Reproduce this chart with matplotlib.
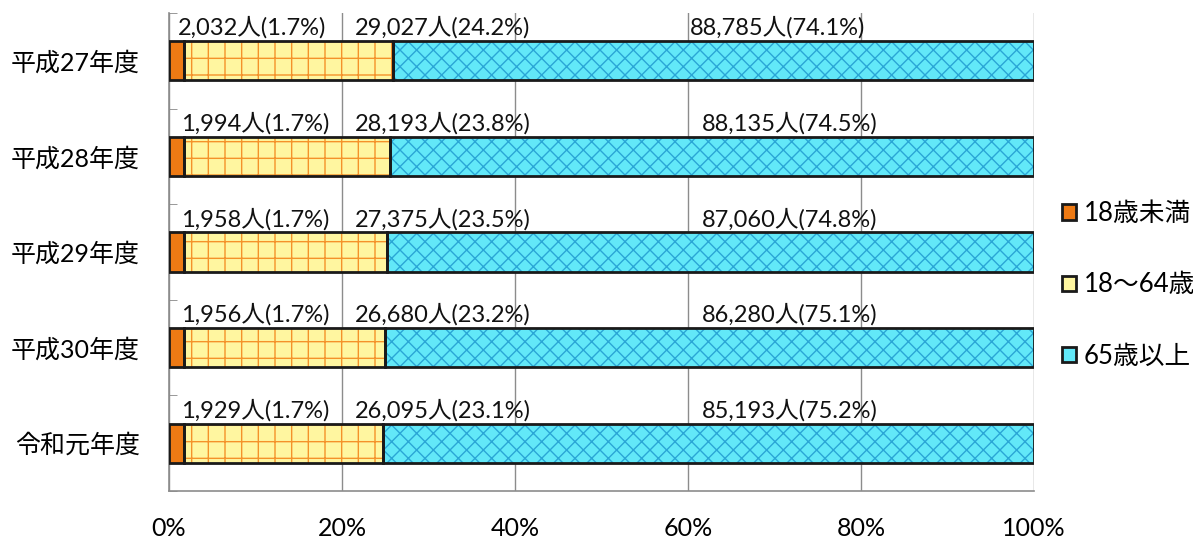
import matplotlib
matplotlib.use("Agg")
import matplotlib.pyplot as plt
from matplotlib.patches import Patch
import numpy as np

plt.rcParams['font.family'] = ['Lato', 'Noto Sans CJK JP', 'DejaVu Sans']
plt.rcParams['hatch.linewidth'] = 1.0

categories = ['平成27年度', '平成28年度', '平成29年度', '平成30年度', '令和元年度']
series_names = ['18歳未満', '18〜64歳', '65歳以上']
under18 = [2032, 1994, 1958, 1956, 1929]
age18_64 = [29027, 28193, 27375, 26680, 26095]
over65 = [88785, 88135, 87060, 86280, 85193]
pct_under18 = [1.7, 1.7, 1.7, 1.7, 1.7]
pct_18_64 = [24.2, 23.8, 23.5, 23.2, 23.1]
pct_over65 = [74.1, 74.5, 74.8, 75.1, 75.2]
xticks = [0, 20, 40, 60, 80, 100]
xtick_labels = ['0%', '20%', '40%', '60%', '80%', '100%']

counts = np.array([under18, age18_64, over65], dtype=float)
pcts = [pct_under18, pct_18_64, pct_over65]
shares = counts / counts.sum(axis=0) * 100

fills = ['#EE7A14', '#FFF6A0', '#62E8F8']
hatch_cols = ['#EE7A14', '#F4922A', '#2AA6D6']
hatches = [None, '+', 'xx']

# label left positions (percent of axis) per row
label_x = [[1.0, 21.5, 60.2]] + [[1.4, 21.5, 61.6]] * 4

fig = plt.figure(figsize=(11.93, 5.40), dpi=100)
ax = fig.add_axes([169/1193, 1 - 491/540, (1034 - 169)/1193, (491 - 13)/540])

y = np.arange(len(categories))
h = 0.41
left = np.zeros(len(categories))
for i in range(3):
    ax.barh(y, shares[i], left=left, height=h, color=fills[i], edgecolor='none', zorder=2)
    if hatches[i]:
        ax.barh(y, shares[i], left=left, height=h, fill=False, edgecolor=hatch_cols[i],
                hatch=hatches[i], linewidth=0, zorder=3)
    ax.barh(y, shares[i], left=left, height=h, fill=False, edgecolor='#1a1a1a',
            linewidth=2.0, zorder=4)
    left += shares[i]

for r in range(len(categories)):
    for i in range(3):
        txt = f"{int(counts[i][r]):,}人({pcts[i][r]:.1f}%)"
        ax.text(label_x[r][i], y[r] - h/2 - 0.065, txt, ha='left', va='baseline',
                fontsize=17, color='#111111', zorder=5)

ax.set_xlim(0, 100)
ax.set_ylim(len(categories) - 0.5, -0.5)
ax.set_xticks(xticks)
ax.set_xticklabels(xtick_labels, fontsize=18)
ax.set_yticks(y)
ax.set_yticklabels(categories, fontsize=18)
ax.tick_params(axis='x', length=0, pad=19)
ax.tick_params(axis='y', length=0, pad=21)
ax.set_yticks(np.arange(len(categories) + 1) - 0.5, minor=True)
ax.tick_params(axis='y', which='minor', direction='in', length=6, color='#888888')
ax.xaxis.grid(True, color='#8c8c8c', linewidth=1.0, zorder=0)
ax.set_axisbelow(True)
for s in ['top', 'right']:
    ax.spines[s].set_visible(False)
for s in ['left', 'bottom']:
    ax.spines[s].set_color('#8c8c8c')
    ax.spines[s].set_linewidth(1.2)

handles = []
for i in range(3):
    handles.append(Patch(facecolor=fills[i], edgecolor='#1a1a1a', linewidth=2.0))
leg = fig.legend(handles, series_names, loc='center left', bbox_to_anchor=(1062/1193, 1 - 285/540),
                 frameon=False, fontsize=18.5, handlelength=0.55, handleheight=0.55,
                 handletextpad=0.3, labelspacing=1.8, borderaxespad=0, borderpad=0)

fig.savefig('out.png', dpi=100)
